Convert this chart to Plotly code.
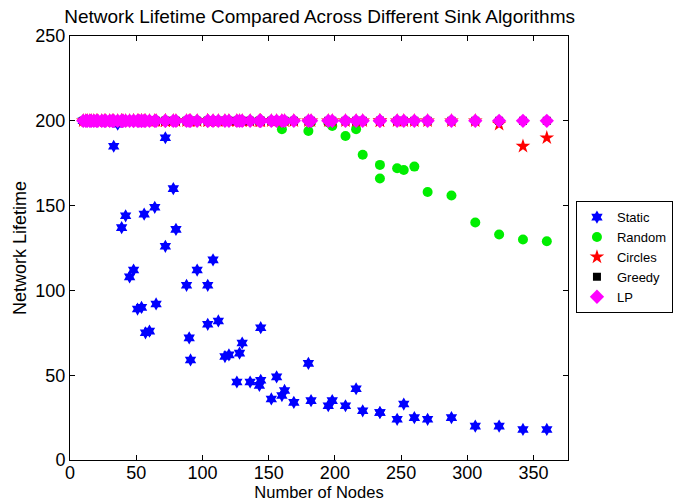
import plotly.graph_objects as go

nodes = [10, 12, 13, 15, 16, 18, 20, 21, 24, 26, 27, 30, 32, 33, 36, 39, 39, 40,
         42, 45, 48, 48, 51, 52, 54, 54, 56, 57, 60, 64, 65, 72, 72, 78, 80, 88,
         90, 91, 96, 104, 104, 108, 112, 117, 120, 126, 128, 130, 136, 143, 144,
         144, 152, 156, 160, 162, 169, 180, 182, 195, 198, 208, 216, 221, 234,
         234, 247, 252, 260, 270, 288, 306, 324, 342, 360]

static = [200, 200, 200, 200, 200, 200, 200, 200, 200, 200, 200, 200, 200, 185,
          198, 137, 200, 200, 144, 108, 112, 200, 89, 200, 90, 200, 145, 75, 76,
          149, 92, 126, 190, 160, 136, 103, 72, 59, 112, 103, 80, 118, 82, 61,
          62, 46, 63, 69, 46, 44, 47, 78, 36, 49, 38, 41, 34, 57, 35, 32, 35, 32,
          42, 29, 28, 28, 24, 33, 25, 24, 25, 20, 20, 18, 18]

random_ = [200, 200, 200, 200, 200, 200, 200, 200, 200, 200, 200, 200, 200, 200,
           200, 200, 200, 200, 200, 200, 200, 200, 200, 200, 200, 200, 200, 200,
           200, 200, 200, 200, 200, 200, 200, 200, 200, 200, 200, 200, 200, 200,
           200, 200, 200, 200, 200, 200, 200, 200, 200, 200, 200, 200, 195, 200,
           200, 194, 199, 199, 197, 191, 195, 180, 174, 166, 172, 171, 173, 158,
           156, 140, 133, 130, 129]

circles = [200] * 72 + [198, 185, 190]
greedy = [200] * 75
lp = [200] * 75

series_names = ["Static", "Random", "Circles", "Greedy", "LP"]

fig = go.Figure()
fig.add_trace(go.Scatter(x=nodes, y=static, mode="markers", name=series_names[0],
                         marker=dict(symbol="hexagram", size=10, color="#0000ff",
                                     line=dict(width=0))))
fig.add_trace(go.Scatter(x=nodes, y=random_, mode="markers", name=series_names[1],
                         marker=dict(symbol="circle", size=10, color="#00ee00",
                                     line=dict(width=0))))
fig.add_trace(go.Scatter(x=nodes, y=circles, mode="markers", name=series_names[2],
                         marker=dict(symbol="star", size=11, color="#ff0000",
                                     line=dict(width=0))))
fig.add_trace(go.Scatter(x=nodes, y=greedy, mode="markers", name=series_names[3],
                         marker=dict(symbol="square", size=8, color="#000000",
                                     line=dict(width=0))))
fig.add_trace(go.Scatter(x=nodes, y=lp, mode="markers", name=series_names[4],
                         marker=dict(symbol="diamond", size=11, color="#ff00ff",
                                     line=dict(width=0))))

axis_common = dict(showgrid=False, zeroline=False, showline=True, linecolor="black",
                   linewidth=1, mirror="allticks", ticks="inside", ticklen=5,
                   tickcolor="black", automargin=False,
                   tickfont=dict(size=18, color="black"))

fig.update_layout(
    width=680, height=503,
    margin=dict(l=70, r=112, t=36, b=43),
    paper_bgcolor="white", plot_bgcolor="white",
    font=dict(family="Liberation Sans, Arial, sans-serif", color="black"),
    title=dict(text="Network Lifetime Compared Across Different Sink Algorithms",
               x=0.47, xanchor="center", y=0.968, yanchor="middle",
               font=dict(size=19, color="black")),
    xaxis=dict(range=[0, 376], tickvals=[0, 50, 100, 150, 200, 250, 300, 350],
               ticklabelstandoff=-4,
               title=dict(text="Number of Nodes", font=dict(size=16.5), standoff=0),
               **axis_common),
    yaxis=dict(range=[0, 250], tickvals=[0, 50, 100, 150, 200, 250],
               title=dict(text="Network Lifetime", font=dict(size=18), standoff=4),
               **axis_common),
    legend=dict(xref="container", yref="container", x=0.847, y=0.6,
                xanchor="left", yanchor="top",
                bordercolor="black", borderwidth=1, bgcolor="white",
                font=dict(size=13, color="black"), tracegroupgap=0,
                itemwidth=30),
    showlegend=True,
)

fig.write_html("out.html", config={"displayModeBar": False},
               post_script="document.body.style.margin='0';")
